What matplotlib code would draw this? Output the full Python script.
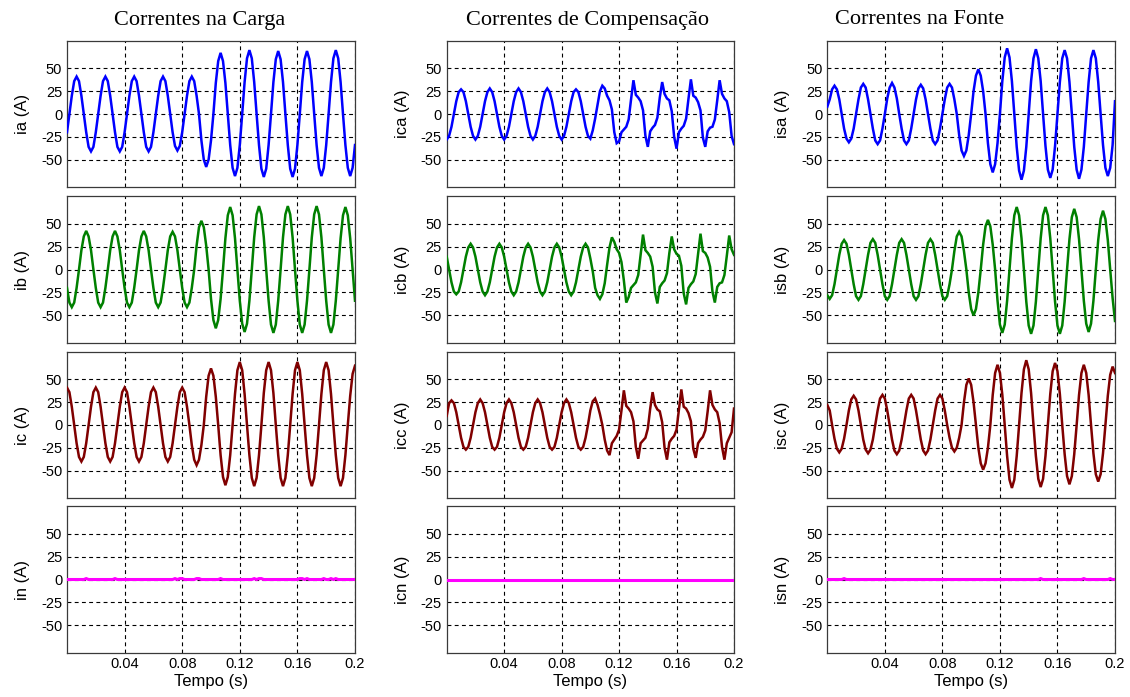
import numpy as np
import matplotlib
matplotlib.use("Agg")
import matplotlib.pyplot as plt

# ---------------- data (sampled every 1/12 of a 50 Hz cycle) ----------------
t = np.linspace(0.0, 0.2, 121)

ia = [
    -20, 0, 20, 36, 41, 36, 20, 0, -20, -36, -41, -36,
    -20, 0, 20, 36, 41, 36, 20, 0, -20, -36, -41, -36,
    -20, 0, 20, 36, 41, 36, 20, 0, -20, -36, -41, -36,
    -20, 0, 20, 36, 41, 36, 20, 0, -20, -35, -40, -35,
    -20, 0, 20, 36, 41, 36, 20, 0, -29, -50, -58, -50,
    -29, 0, 34, 58, 67, 58, 34, 0, -34, -59, -68, -59,
    -34, 0, 35, 61, 70, 61, 35, 0, -34, -60, -69, -60,
    -34, 0, 35, 60, 69, 60, 35, 0, -34, -60, -69, -60,
    -34, 0, 35, 60, 69, 60, 35, 0, -34, -59, -68, -59,
    -34, 0, 35, 61, 70, 61, 35, 0, -34, -59, -68, -59,
    -34]

ib = [
    -20, -36, -41, -36, -20, 0, 21, 36, 42, 36, 21, 0,
    -20, -36, -41, -36, -20, 0, 21, 36, 42, 36, 21, 0,
    -20, -36, -41, -36, -20, 0, 21, 36, 42, 36, 21, 0,
    -20, -36, -41, -36, -20, 0, 21, 36, 41, 36, 21, 0,
    -20, -36, -41, -36, -20, 0, 26, 46, 53, 46, 26, 0,
    -32, -55, -64, -55, -32, 0, 34, 59, 68, 59, 34, 0,
    -34, -59, -68, -59, -34, 0, 35, 60, 69, 60, 35, 0,
    -34, -60, -69, -60, -34, 0, 35, 60, 69, 60, 35, 0,
    -34, -60, -69, -60, -34, 0, 35, 60, 69, 60, 35, 0,
    -34, -60, -69, -60, -34, 0, 34, 59, 68, 59, 34, 0,
    -34]

ic = [
    41, 36, 20, 0, -20, -35, -40, -35, -20, 0, 20, 36,
    41, 36, 20, 0, -20, -35, -40, -35, -20, 0, 20, 36,
    41, 36, 20, 0, -20, -35, -40, -35, -20, 0, 20, 36,
    41, 36, 20, 0, -20, -35, -40, -35, -20, 0, 20, 36,
    41, 36, 20, 0, -22, -38, -44, -38, -22, 0, 31, 54,
    62, 54, 31, 0, -33, -57, -66, -57, -33, 0, 34, 60,
    69, 60, 34, 0, -33, -58, -67, -58, -33, 0, 35, 60,
    69, 60, 35, 0, -33, -58, -67, -58, -33, 0, 34, 60,
    69, 60, 34, 0, -33, -58, -67, -58, -33, 0, 34, 60,
    69, 60, 34, 0, -33, -58, -67, -58, -33, 0, 32, 56,
    65]

in_ = [
    0, 0, 0, 0, 0, 0, 0, 0, 1, 0, 0, 0,
    0, 0, 0, 0, 0, 0, 0, 0, 1, 0, 0, 0,
    0, 0, 0, 0, 0, 0, 0, 0, 0, 0, 0, 0,
    0, 0, 0, 0, 0, 0, 0, 0, 0, 1, 0, 1,
    1, 0, 0, 0, 0, 0, 1, 1, 0, 0, 0, 0,
    0, 0, 0, 0, 1, 0, 0, 0, 0, 0, 0, 0,
    0, 0, 0, 0, 0, 0, 1, 0, 1, 1, 0, 0,
    0, 0, 0, 0, 0, 0, 0, 0, 0, 0, 0, 0,
    0, 1, 1, 0, 1, 0, 0, 0, 0, 0, 0, 1,
    0, 0, 1, 0, 1, 0, 0, 0, 0, 0, 0, 0,
    0]

ica = [
    -28, -24, -14, 0, 14, 24, 27, 24, 14, 0, -14, -24,
    -28, -24, -14, 0, 14, 24, 28, 24, 14, 0, -14, -24,
    -28, -24, -14, 0, 14, 24, 28, 24, 14, 0, -14, -24,
    -28, -24, -14, 0, 14, 24, 28, 24, 14, 0, -14, -24,
    -28, -24, -14, 0, 14, 24, 27, 24, 14, 0, -14, -24,
    -27, -18, -5, 10, 25, 31, 28, 20, 15, 5, -20, -32,
    -30, -20, -17, -14, -6, 16, 37, 21, 18, 14, 4, -24,
    -36, -19, -15, -12, -4, 18, 35, 22, 17, 15, 3, -25,
    -38, -20, -16, -13, -5, 17, 38, 20, 18, 13, 4, -26,
    -36, -19, -15, -14, -6, 15, 37, 22, 17, 14, 2, -24,
    -33]

icb = [
    14, 0, -14, -24, -27, -24, -14, 0, 14, 24, 28, 24,
    14, 0, -14, -24, -28, -24, -14, 0, 14, 24, 28, 24,
    14, 0, -14, -24, -28, -24, -14, 0, 14, 24, 28, 24,
    14, 0, -14, -24, -28, -24, -14, 0, 14, 24, 28, 24,
    14, 0, -14, -24, -28, -24, -14, 0, 14, 24, 28, 24,
    12, -2, -20, -28, -32, -27, -15, 5, 24, 35, 30, 22,
    18, 8, -12, -36, -30, -20, -17, -14, -6, 16, 38, 21,
    18, 14, 3, -25, -37, -19, -15, -12, -4, 18, 36, 22,
    17, 15, 4, -26, -38, -20, -16, -13, -5, 17, 39, 20,
    18, 13, 3, -24, -36, -19, -15, -14, -6, 15, 37, 22,
    16]

icc = [
    10, 24, 27, 24, 14, 0, -14, -24, -27, -24, -14, 0,
    14, 24, 28, 24, 14, 0, -14, -24, -27, -24, -14, 0,
    14, 24, 28, 24, 14, 0, -14, -24, -27, -24, -14, 0,
    14, 24, 28, 24, 14, 0, -14, -24, -27, -24, -14, 0,
    14, 24, 28, 24, 14, 0, -14, -24, -27, -24, -14, 0,
    16, 26, 29, 22, 12, 0, -16, -28, -33, -20, -16, -12,
    -5, 16, 38, 21, 18, 14, 4, -24, -37, -20, -17, -14,
    -4, 18, 36, 22, 17, 15, 3, -25, -38, -19, -15, -12,
    -5, 17, 39, 20, 18, 13, 4, -26, -36, -20, -16, -13,
    -6, 15, 38, 22, 17, 14, 2, -24, -38, -20, -14, -8,
    18]

icn = [
    0, 0, 0, 0, 0, 0, 0, 0, 0, 0, 0, 0,
    0, 0, 0, 0, 0, 0, 0, 0, 0, 0, 0, 0,
    0, 0, 0, 0, 0, 0, 0, 0, 0, 0, 0, 0,
    0, 0, 0, 0, 0, 0, 0, 0, 0, 0, 0, 0,
    0, 0, 0, 0, 0, 0, 0, 0, 0, 0, 0, 0,
    0, 0, 0, 0, 0, 0, 0, 0, 0, 0, 0, 0,
    0, 0, 0, 0, 0, 0, 0, 0, 0, 0, 0, 0,
    0, 0, 0, 0, 0, 0, 0, 0, 0, 0, 0, 0,
    0, 0, 0, 0, 0, 0, 0, 0, 0, 0, 0, 0,
    0, 0, 0, 0, 0, 0, 0, 0, 0, 0, 0, 0,
    0]

isa = [
    8, 16, 27, 31, 27, 16, 0, -16, -27, -31, -27, -16,
    0, 16, 29, 33, 29, 16, 0, -16, -29, -33, -29, -16,
    0, 17, 29, 34, 29, 17, 0, -16, -29, -33, -29, -16,
    0, 16, 28, 32, 28, 16, 0, -16, -29, -33, -29, -16,
    0, 16, 29, 33, 29, 16, 0, -23, -40, -46, -40, -23,
    0, 25, 42, 49, 42, 25, 0, -32, -55, -64, -55, -32,
    0, 36, 62, 72, 62, 36, 0, -36, -62, -72, -62, -36,
    0, 36, 61, 71, 61, 36, 0, -35, -61, -70, -61, -35,
    0, 35, 61, 70, 61, 35, 0, -36, -61, -71, -61, -36,
    0, 35, 61, 70, 61, 35, 0, -34, -59, -68, -59, -34,
    14]

isb = [
    -28, -32, -28, -16, 0, 16, 28, 32, 28, 16, 0, -16,
    -29, -33, -29, -16, 0, 16, 29, 33, 29, 16, 0, -16,
    -29, -33, -29, -16, 0, 16, 29, 33, 29, 16, 0, -16,
    -29, -33, -29, -16, 0, 16, 29, 33, 29, 16, 0, -16,
    -29, -33, -29, -16, 0, 20, 36, 41, 36, 20, 0, -25,
    -43, -50, -43, -25, 0, 27, 47, 54, 47, 27, 0, -34,
    -60, -69, -60, -34, 0, 34, 59, 68, 59, 34, 0, -35,
    -61, -70, -61, -35, 0, 34, 59, 68, 59, 34, 0, -35,
    -61, -70, -61, -35, 0, 33, 57, 66, 57, 33, 0, -34,
    -59, -68, -59, -34, 0, 32, 55, 64, 55, 32, 0, -31,
    -56]

isc = [
    22, 16, 0, -15, -26, -30, -26, -15, 0, 16, 28, 32,
    28, 16, 0, -16, -27, -31, -27, -16, 0, 16, 29, 33,
    29, 16, 0, -16, -28, -32, -28, -16, 0, 16, 29, 33,
    29, 16, 0, -16, -28, -32, -28, -16, 0, 16, 29, 33,
    29, 16, 0, -14, -25, -29, -25, -14, 0, 25, 44, 51,
    44, 25, 0, -25, -42, -49, -42, -25, 0, 33, 57, 66,
    57, 33, 0, -34, -60, -69, -60, -34, 0, 35, 61, 71,
    61, 35, 0, -34, -59, -68, -59, -34, 0, 34, 59, 68,
    59, 34, 0, -32, -56, -65, -56, -32, 0, 33, 57, 66,
    57, 33, 0, -31, -54, -62, -54, -31, 0, 32, 55, 64,
    57]

isn = [
    0, 0, 0, 0, 0, 0, 0, 1, 0, 0, 0, 0,
    0, 0, 0, 0, 0, 0, 0, 0, 0, 0, 0, 0,
    0, 0, 0, 0, 0, 0, 0, 0, 0, 0, 0, 0,
    0, 0, 0, 0, 0, 0, 0, 0, 0, 0, 0, 0,
    0, 0, 0, 0, 0, 0, 0, 0, 0, 0, 0, 0,
    0, 0, 0, 0, 0, 0, 0, 0, 0, 0, 0, 0,
    0, 0, 0, 0, 0, 0, 0, 0, 0, 0, 0, 0,
    0, 0, 0, 0, 0, 1, 0, 0, 0, 0, 0, 0,
    0, 0, 0, 0, 0, 0, 0, 0, 0, 0, 0, 1,
    0, 0, 0, 0, 0, 0, 0, 0, 0, 0, 1, 0,
    0]

titles = ["Correntes na Carga", "Correntes de Compensação", "Correntes na Fonte"]
ylabels = [["ia (A)", "ica (A)", "isa (A)"],
           ["ib (A)", "icb (A)", "isb (A)"],
           ["ic (A)", "icc (A)", "isc (A)"],
           ["in (A)", "icn (A)", "isn (A)"]]
series = [[ia, ica, isa], [ib, icb, isb], [ic, icc, isc], [in_, icn, isn]]
row_colors = ["#0000ff", "#008000", "#800000", "#ff00ff"]
yticks = [-50, -25, 0, 25, 50]
ytick_labels = ["-50", "-25", "0", "25", "50"]
xticks = [0.04, 0.08, 0.12, 0.16, 0.2]
xtick_labels = ["0.04", "0.08", "0.12", "0.16", "0.2"]

# ---------------- layout (pixel positions of the panels) ----------------
W, H = 1130, 697
fig = plt.figure(figsize=(W / 100, H / 100), dpi=100)
col_left = [67, 446.7, 827.3]
col_right = [355, 734, 1115]
row_top = [41, 196, 352, 506]
row_bot = [187, 343, 498, 653]
title_x = [200, 588, 920]

sans = ["Liberation Sans", "DejaVu Sans"]
serif = ["Liberation Serif", "DejaVu Serif"]

for r in range(4):
    for c in range(3):
        x0, x1 = col_left[c], col_right[c]
        y0, y1 = row_top[r], row_bot[r]
        ax = fig.add_axes([x0 / W, 1 - y1 / H, (x1 - x0) / W, (y1 - y0) / H])
        lw = 2.2 if r == 3 else 1.8
        ax.plot(t, series[r][c], color=row_colors[r], linewidth=lw,
                solid_joinstyle="miter", zorder=3)
        ax.set_xlim(0, 0.2)
        ax.set_ylim(-80, 80)
        ax.set_yticks(yticks)
        ax.set_yticklabels(ytick_labels, fontfamily=sans, fontsize=10.5)
        ax.set_xticks(xticks)
        if r == 3:
            ax.set_xticklabels(xtick_labels, fontfamily=sans, fontsize=10.5)
            ax.set_xlabel("Tempo (s)", fontfamily=sans, fontsize=12, labelpad=2)
        else:
            ax.set_xticklabels([])
        ax.tick_params(axis="both", length=0)
        ax.tick_params(axis="y", pad=3.5)
        ax.tick_params(axis="x", pad=3)
        ax.set_axisbelow(True)
        ax.grid(True, color="black", linestyle=(0, (3.5, 3)), linewidth=0.8)
        for sp in ax.spines.values():
            sp.set_color("#3a3a3a")
            sp.set_linewidth(0.9)
        ax.set_ylabel(ylabels[r][c], fontfamily=sans, fontsize=12)
        ax.yaxis.set_label_coords(-0.128, 0.5)

for c in range(3):
    fig.text(title_x[c] / W, 1 - 20 / H, titles[c], ha="center", va="center",
             fontfamily=serif, fontsize=16)

fig.savefig("out.png", dpi=100)
